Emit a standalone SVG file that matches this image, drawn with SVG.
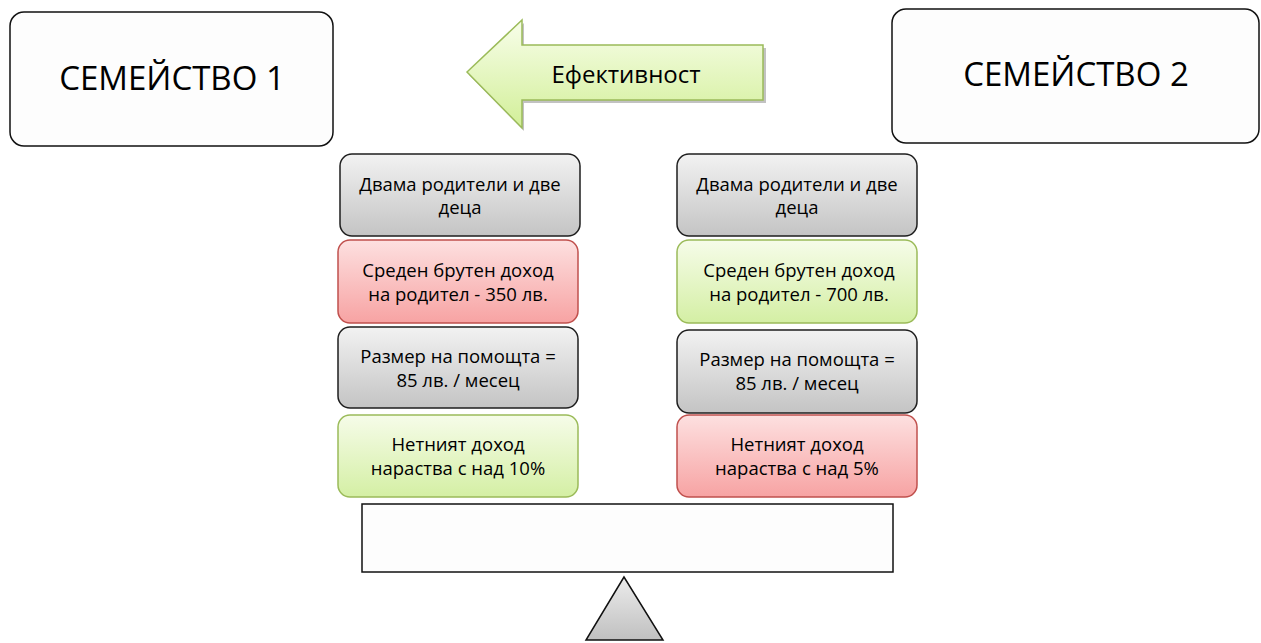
<svg xmlns="http://www.w3.org/2000/svg" width="1261" height="643" viewBox="0 0 1261 643">
<defs>
<linearGradient id="gGray" x1="0" y1="0" x2="0" y2="1"><stop offset="0" stop-color="#f2f2f2"/><stop offset="1" stop-color="#c4c4c4"/></linearGradient>
<linearGradient id="gRed" x1="0" y1="0" x2="0" y2="1"><stop offset="0" stop-color="#fde0e0"/><stop offset="1" stop-color="#f7a3a3"/></linearGradient>
<linearGradient id="gGreen" x1="0" y1="0" x2="0" y2="1"><stop offset="0" stop-color="#f6fce9"/><stop offset="1" stop-color="#d4efa4"/></linearGradient>
<linearGradient id="gArrow" x1="0" y1="0" x2="0" y2="1"><stop offset="0" stop-color="#f8feea"/><stop offset="1" stop-color="#d2ef98"/></linearGradient>
<linearGradient id="gTri" x1="0" y1="0" x2="0" y2="1"><stop offset="0" stop-color="#ececec"/><stop offset="1" stop-color="#c0c0c0"/></linearGradient>
</defs>
<style>
text{font-family:"Open Sans","Noto Sans","DejaVu Sans",sans-serif;fill:#000;text-anchor:middle}
.big{font-size:33px}
.sm{font-size:18.5px}
.fam{fill:#fdfdfd;stroke:#111;stroke-width:1.5}
.gray{fill:url(#gGray);stroke:#1e1e1e;stroke-width:1.5}
.red{fill:url(#gRed);stroke:#c0504d;stroke-width:1.5}
.green{fill:url(#gGreen);stroke:#9bbb59;stroke-width:1.5}
</style>
<g id="family1"><rect class="fam" x="10" y="12" width="323" height="134" rx="14"/><text class="big" x="172" y="90">СЕМЕЙСТВО 1</text></g>
<g id="family2"><rect class="fam" x="892" y="9" width="367" height="134" rx="14"/><text class="big" x="1076" y="86">СЕМЕЙСТВО 2</text></g>
<g id="arrow">
<polygon points="469,75 524,23 524,48 766,48 766,103 524,103 524,131" fill="#a8a8a8" opacity="0.7"/>
<polygon points="467,72 522,20 522,45 763,45 763,100 522,100 522,128" fill="url(#gArrow)" stroke="#9bbb59" stroke-width="1.5"/>
<text x="626" y="83" style="font-size:24px">Ефективност</text>
</g>
<g id="l1"><rect class="gray" x="340" y="154" width="240" height="82" rx="12"/><text class="sm" x="460" y="191">Двама родители и две</text><text class="sm" x="460" y="214">деца</text></g>
<g id="l2"><rect class="red" x="338" y="240" width="240" height="83" rx="12"/><text class="sm" x="458" y="277">Среден брутен доход</text><text class="sm" x="458" y="301">на родител - 350 лв.</text></g>
<g id="l3"><rect class="gray" x="338" y="327" width="240" height="81" rx="12"/><text class="sm" x="458" y="363">Размер на помощта =</text><text class="sm" x="458" y="387">85 лв. / месец</text></g>
<g id="l4"><rect class="green" x="338" y="415" width="240" height="82" rx="12"/><text class="sm" x="458" y="451">Нетният доход</text><text class="sm" x="458" y="475">нараства с над 10%</text></g>
<g id="r1"><rect class="gray" x="677" y="154" width="240" height="82" rx="12"/><text class="sm" x="797" y="191">Двама родители и две</text><text class="sm" x="797" y="214">деца</text></g>
<g id="r2"><rect class="green" x="677" y="240" width="240" height="83" rx="12"/><text class="sm" x="799" y="277">Среден брутен доход</text><text class="sm" x="799" y="301">на родител - 700 лв.</text></g>
<g id="r3"><rect class="gray" x="677" y="330" width="240" height="83" rx="12"/><text class="sm" x="797" y="366">Размер на помощта =</text><text class="sm" x="797" y="390">85 лв. / месец</text></g>
<g id="r4"><rect class="red" x="677" y="415" width="240" height="82" rx="12"/><text class="sm" x="797" y="451">Нетният доход</text><text class="sm" x="797" y="475">нараства с над 5%</text></g>
<g id="beam"><rect x="362" y="504" width="531" height="68" fill="#fdfdfd" stroke="#111" stroke-width="1.5"/></g>
<g id="fulcrum"><polygon points="624,577 586,640 663,640" fill="url(#gTri)" stroke="#111" stroke-width="1.5"/></g>
<g id="connectors"/>
</svg>
